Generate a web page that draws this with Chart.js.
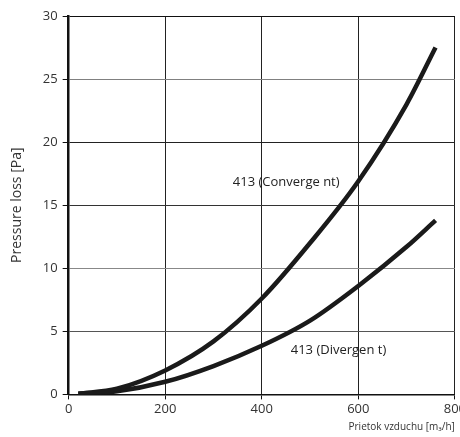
<!DOCTYPE html>
<html><head><meta charset="utf-8">
<script src="https://cdn.jsdelivr.net/npm/chart.js@4/dist/chart.umd.min.js"></script>
<style>
html,body{margin:0;padding:0;overflow:hidden;background:#fff;width:460px;height:437px;}
#wrap{position:absolute;left:0;top:0;width:468px;height:437px;}
</style></head>
<body><div id="wrap"><canvas id="c" width="468" height="437"></canvas></div>
<script>
const flow = [20, 100, 200, 300, 400, 500, 600, 700, 760];
const convergent = [0.05, 0.45, 1.9, 4.2, 7.6, 12.0, 16.9, 23.0, 27.5];
const divergent = [0.05, 0.25, 1.0, 2.25, 3.85, 5.85, 8.6, 11.7, 13.8];
const xTicks = [0, 200, 400, 600, 800];
const yTicks = [0, 5, 10, 15, 20, 25, 30];
const labels = [
  {text: '413 (Converge nt)', x: 340, y: 16.8},
  {text: '413 (Divergen t)', x: 460, y: 3.5}
];

const FONT = '"Open Sans", "Noto Sans", sans-serif';
const pts = (ys) => flow.map((x, i) => ({x: x, y: ys[i]}));

const labelPlugin = {
  id: 'curveLabels',
  afterDatasetsDraw(chart) {
    const ctx = chart.ctx, xs = chart.scales.x, ys = chart.scales.y;
    ctx.save();
    ctx.fillStyle = '#222';
    ctx.font = '13px ' + FONT;
    ctx.textAlign = 'left';
    ctx.textBaseline = 'middle';
    labels.forEach(l => ctx.fillText(l.text, xs.getPixelForValue(l.x), ys.getPixelForValue(l.y)));
    ctx.restore();
  }
};

const yGridColors = {0: '#111', 5: '#555', 10: '#888', 15: '#333', 20: '#222', 25: '#808080', 30: '#111'};

new Chart(document.getElementById('c'), {
  type: 'line',
  data: {
    datasets: [
      {data: pts(convergent), borderColor: '#1a1a1a', borderWidth: 4.5, pointRadius: 0, tension: 0.4, cubicInterpolationMode: 'monotone', fill: false},
      {data: pts(divergent), borderColor: '#1a1a1a', borderWidth: 4.5, pointRadius: 0, tension: 0.4, cubicInterpolationMode: 'monotone', fill: false}
    ]
  },
  options: {
    responsive: false,
    animation: false,
    layout: {padding: {left: 9, top: 16, right: 0, bottom: 4}},
    plugins: {legend: {display: false}, tooltip: {enabled: false}},
    scales: {
      x: {
        type: 'linear', min: 0, max: 800,
        afterBuildTicks: (s) => { s.ticks = xTicks.map(v => ({value: v})); },
        grid: {color: '#222', lineWidth: 1, tickLength: 5, tickColor: '#111', drawTicks: true},
        border: {color: '#111', width: 1.5},
        ticks: {font: {family: FONT, size: 13}, color: '#333', padding: 2, maxRotation: 0},
        title: {display: true, text: 'Prietok vzduchu [m₃/h]', align: 'end', font: {family: FONT, size: 10}, color: '#333', padding: {top: 2, bottom: 0}}
      },
      y: {
        type: 'linear', min: 0, max: 30,
        afterBuildTicks: (s) => { s.ticks = yTicks.map(v => ({value: v})); },
        grid: {color: (c) => yGridColors[c.tick ? c.tick.value : 0] || '#444', lineWidth: 1, tickLength: 6, tickColor: '#111'},
        border: {color: '#111', width: 2.5},
        ticks: {font: {family: FONT, size: 13}, color: '#333', padding: 5},
        title: {display: true, text: 'Pressure loss [Pa]', font: {family: FONT, size: 14}, color: '#333', padding: {top: 0, bottom: 12}}
      }
    }
  },
  plugins: [labelPlugin]
});
</script>
</body></html>
